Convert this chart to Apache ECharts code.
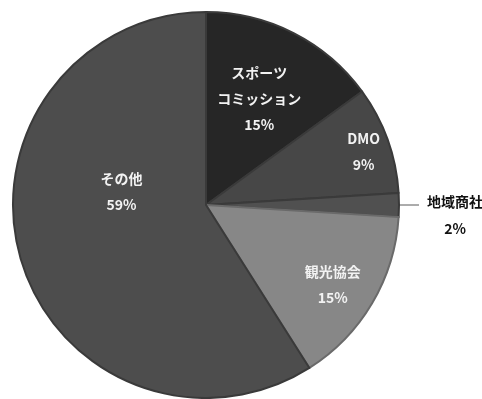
<!DOCTYPE html>
<html>
<head>
<meta charset="utf-8">
<script src="https://cdn.jsdelivr.net/npm/echarts@6/dist/echarts.min.js"></script>
<style>
  html, body { margin: 0; padding: 0; background: #fff; }
  #chart { width: 482px; height: 399px; }
</style>
</head>
<body>
<div id="chart"></div>
<script>
// 区分（時計回り、12時から）
var names = ['スポーツ\nコミッション', 'DMO', '地域商社', '観光協会', 'その他'];
var values = [15, 9, 2, 15, 59];
var fills = ['#262626', '#474747', '#505050', '#878787', '#4d4d4d'];

// ラベル位置の微調整（Excelの配置に寄せる）
var labelShift = [[8, -18], [64, -20], [2, 10], [41, 29], [11, -41]];

var chart = echarts.init(document.getElementById('chart'));

var data = names.map(function (n, i) {
    var item = {
        name: n,
        value: values[i],
        itemStyle: { color: fills[i], borderColor: i === 3 ? '#6a6a6a' : '#3a3a3a' }
    };
    if (i === 2) {
        // 地域商社だけ外側
        item.label = {
            position: 'outside',
            color: '#111',
            formatter: '{a|{b}}\n{a|{d}%}',
            rich: { a: { width: 58, align: 'center', fontSize: 14, fontWeight: 'bold', lineHeight: 27, color: '#111' } }
        };
        item.labelLine = { show: true, length: 4, length2: 16, lineStyle: { color: '#595959', width: 1 } };
    }
    return item;
});

chart.setOption({
    animation: false,
    series: [{
        type: 'pie',
        center: [206, 205],
        radius: 193,
        startAngle: 90,
        clockwise: true,
        avoidLabelOverlap: false,
        itemStyle: { borderWidth: 2 },
        label: {
            show: true,
            position: 'inside',
            formatter: '{b}\n{d}%',
            color: '#f2f2f2',
            fontFamily: 'Noto Sans CJK JP',
            fontSize: 14,
            fontWeight: 'bold',
            lineHeight: 26
        },
        labelLine: { show: false },
        labelLayout: function (p) {
            var s = labelShift[p.dataIndex];
            return { dx: s[0], dy: s[1] };
        },
        data: data
    }]
});
</script>
</body>
</html>
